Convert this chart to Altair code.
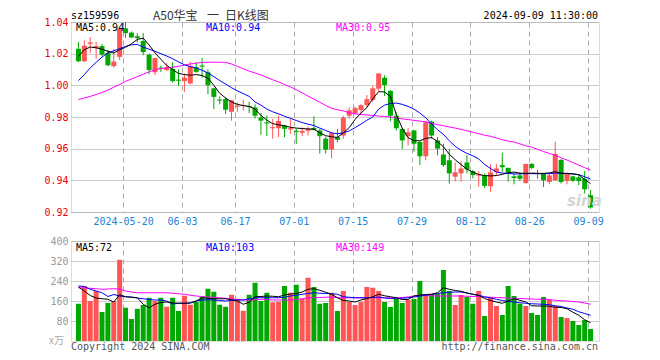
import altair as alt
import pandas as pd

# ---------------- data ----------------
OPEN = [1.0231,1.0152,1.0262,1.0235,1.0248,1.0204,1.0121,1.0180,1.0360,1.0333,
        1.0310,1.0280,1.0194,1.0083,1.0112,1.0096,1.0104,1.0036,1.0027,1.0012,
        1.0115,1.0125,1.0083,0.9981,0.9910,0.9913,0.9833,0.9865,0.9869,0.9869,
        0.9860,0.9796,0.9766,0.9729,0.9729,0.9746,0.9721,0.9713,0.9700,0.9713,
        0.9731,0.9715,0.9663,0.9594,0.9673,0.9683,0.9808,0.9823,0.9844,0.9875,
        0.9908,0.9979,1.0048,0.9965,0.9808,0.9725,0.9679,0.9715,0.9642,0.9552,
        0.9771,0.9652,0.9563,0.9527,0.9423,0.9444,0.9513,0.9458,0.9430,0.9433,
        0.9363,0.9454,0.9496,0.9479,0.9425,0.9431,0.9383,0.9504,0.9444,0.9442,
        0.9390,0.9400,0.9529,0.9396,0.9425,0.9419,0.9410,0.9306]
CLOSE = [1.0152,1.0250,1.0271,1.0248,1.0194,1.0127,1.0150,1.0360,1.0330,1.0302,
         1.0298,1.0210,1.0097,1.0172,1.0105,1.0115,1.0027,1.0029,1.0048,1.0121,
         1.0085,1.0118,1.0000,0.9927,0.9903,0.9846,0.9906,0.9872,0.9876,0.9862,
         0.9808,0.9777,0.9759,0.9736,0.9775,0.9725,0.9729,0.9706,0.9713,0.9725,
         0.9719,0.9679,0.9594,0.9698,0.9656,0.9796,0.9842,0.9856,0.9875,0.9913,
         0.9981,1.0075,1.0002,0.9808,0.9729,0.9652,0.9704,0.9631,0.9552,0.9767,
         0.9683,0.9600,0.9496,0.9444,0.9450,0.9475,0.9469,0.9433,0.9437,0.9365,
         0.9450,0.9475,0.9483,0.9450,0.9415,0.9410,0.9504,0.9479,0.9440,0.9400,
         0.9431,0.9567,0.9390,0.9446,0.9398,0.9396,0.9344,0.9229]
HIGH = [1.0275,1.0283,1.0304,1.0275,1.0262,1.0225,1.0229,1.0370,1.0400,1.0340,
        1.0330,1.0330,1.0200,1.0175,1.0125,1.0142,1.0146,1.0100,1.0075,1.0148,
        1.0146,1.0173,1.0100,0.9985,0.9930,0.9923,0.9908,0.9892,0.9908,0.9896,
        0.9880,0.9825,0.9810,0.9788,0.9810,0.9750,0.9788,0.9725,0.9735,0.9740,
        0.9804,0.9725,0.9675,0.9704,0.9725,0.9808,0.9860,0.9867,0.9880,0.9938,
        0.9996,1.0075,1.0063,0.9969,0.9829,0.9730,0.9731,0.9720,0.9650,0.9777,
        0.9777,0.9673,0.9631,0.9600,0.9513,0.9521,0.9558,0.9465,0.9458,0.9444,
        0.9502,0.9502,0.9575,0.9479,0.9444,0.9452,0.9504,0.9508,0.9465,0.9445,
        0.9442,0.9644,0.9535,0.9452,0.9429,0.9440,0.9460,0.9338]
LOW = [1.0146,1.0146,1.0204,1.0167,1.0183,1.0121,1.0112,1.0160,1.0300,1.0300,
       1.0270,1.0190,1.0070,1.0065,1.0085,1.0090,1.0017,0.9996,0.9958,1.0006,
       1.0079,1.0048,0.9944,0.9850,0.9880,0.9819,0.9777,0.9833,0.9840,0.9825,
       0.9790,0.9688,0.9680,0.9663,0.9673,0.9673,0.9694,0.9630,0.9679,0.9683,
       0.9715,0.9569,0.9569,0.9538,0.9640,0.9663,0.9790,0.9815,0.9825,0.9860,
       0.9896,0.9965,0.9933,0.9773,0.9715,0.9598,0.9619,0.9581,0.9496,0.9527,
       0.9663,0.9558,0.9485,0.9379,0.9392,0.9392,0.9444,0.9413,0.9360,0.9350,
       0.9327,0.9433,0.9454,0.9392,0.9375,0.9396,0.9379,0.9470,0.9410,0.9358,
       0.9375,0.9396,0.9379,0.9375,0.9390,0.9369,0.9317,0.9221]
VOLUME = [149,220,160,200,116,152,159,325,133,88,
          129,144,173,160,173,137,173,120,181,145,
          156,176,209,197,145,137,185,169,121,185,
          233,160,193,155,157,220,193,225,169,253,
          216,149,152,193,120,200,156,144,156,216,
          213,200,156,136,168,152,164,168,240,180,
          188,188,284,200,144,184,176,149,200,100,
          176,140,104,220,180,149,140,112,104,176,
          164,140,96,92,80,64,84,48]
MA5 = [1.0183,1.0225,1.0242,1.0237,1.0228,1.0215,1.0204,1.0225,1.0240,1.0262,
       1.0290,1.0298,1.0255,1.0205,1.0165,1.0125,1.0100,1.0075,1.0068,1.0064,
       1.0068,1.0062,1.0045,1.0000,0.9950,0.9920,0.9895,0.9880,0.9872,0.9867,
       0.9850,0.9810,0.9780,0.9758,0.9750,0.9745,0.9735,0.9730,0.9727,0.9725,
       0.9723,0.9700,0.9682,0.9675,0.9671,0.9700,0.9733,0.9785,0.9825,0.9860,
       0.9915,0.9960,0.9958,0.9930,0.9815,0.9730,0.9670,0.9650,0.9650,0.9665,
       0.9670,0.9645,0.9612,0.9565,0.9530,0.9500,0.9470,0.9452,0.9437,0.9430,
       0.9428,0.9430,0.9438,0.9448,0.9452,0.9445,0.9444,0.9446,0.9444,0.9444,
       0.9447,0.9455,0.9445,0.9443,0.9441,0.9435,0.9405,0.9380]
MA10 = [1.0030,1.0068,1.0110,1.0145,1.0178,1.0205,1.0218,1.0232,1.0246,1.0256,
        1.0258,1.0242,1.0228,1.0215,1.0200,1.0185,1.0168,1.0148,1.0130,1.0118,
        1.0110,1.0095,1.0078,1.0055,1.0030,1.0008,0.9985,0.9965,0.9948,0.9930,
        0.9895,0.9875,0.9850,0.9833,0.9820,0.9805,0.9792,0.9778,0.9765,0.9755,
        0.9746,0.9730,0.9715,0.9700,0.9694,0.9700,0.9712,0.9733,0.9755,0.9780,
        0.9800,0.9850,0.9875,0.9885,0.9888,0.9880,0.9867,0.9850,0.9825,0.9795,
        0.9755,0.9720,0.9690,0.9650,0.9615,0.9590,0.9570,0.9555,0.9535,0.9500,
        0.9475,0.9452,0.9446,0.9444,0.9440,0.9441,0.9442,0.9442,0.9442,0.9442,
        0.9442,0.9446,0.9444,0.9443,0.9440,0.9436,0.9423,0.9408]
MA30 = [0.9910,0.9920,0.9930,0.9942,0.9955,0.9970,0.9988,1.0005,1.0025,1.0040,
        1.0055,1.0070,1.0085,1.0099,1.0105,1.0110,1.0115,1.0120,1.0128,1.0135,
        1.0140,1.0145,1.0146,1.0146,1.0146,1.0145,1.0135,1.0120,1.0105,1.0090,
        1.0078,1.0066,1.0050,1.0035,1.0022,1.0005,0.9990,0.9973,0.9952,0.9932,
        0.9913,0.9893,0.9873,0.9855,0.9846,0.9838,0.9828,0.9820,0.9816,0.9813,
        0.9810,0.9806,0.9804,0.9800,0.9795,0.9788,0.9784,0.9779,0.9774,0.9770,
        0.9760,0.9752,0.9745,0.9737,0.9730,0.9722,0.9713,0.9704,0.9695,0.9685,
        0.9678,0.9668,0.9656,0.9648,0.9642,0.9630,0.9618,0.9610,0.9596,0.9582,
        0.9570,0.9558,0.9542,0.9528,0.9512,0.9496,0.9480,0.9465]
VMA5 = [216,200,182,172,169,167,156,185,177,175,
        173,147,133,147,154,156,152,151,151,152,
        160,173,171,169,169,169,165,160,147,155,
        177,178,180,179,177,184,188,190,196,207,
        209,203,195,187,173,162,160,156,164,170,
        177,187,181,177,173,166,166,180,184,186,
        187,193,213,207,202,199,192,187,182,170,
        162,156,151,160,169,163,156,141,140,140,
        139,135,134,129,115,103,85,73]
VMA10 = [220,218,207,200,193,178,186,180,177,176,
         172,169,166,164,164,160,148,151,151,152,
         160,164,165,164,162,160,162,164,164,169,
         173,173,173,173,173,175,180,183,187,190,
         193,191,190,189,187,177,175,173,173,173,
         174,176,172,170,169,171,173,176,180,183,
         187,190,193,195,196,196,192,187,183,177,
         172,167,162,159,156,153,151,149,148,147,
         145,141,138,132,127,117,110,103]
VMA30 = [213,212,211,209,207,208,209,208,200,196,
         193,193,193,193,193,193,191,189,187,183,
         180,178,176,175,173,171,168,166,164,164,
         165,167,166,164,164,164,164,166,169,173,
         173,174,175,176,173,173,173,173,173,173,
         173,173,173,173,173,174,176,180,183,182,
         181,180,180,180,180,180,179,178,177,176,
         175,174,173,172,171,170,169,168,167,167,
         166,163,161,160,158,156,152,147]

TICK_IDX = [8, 18, 27, 37, 47, 57, 67, 77, 87]
TICK_LABELS = ["2024-05-20", "06-03", "06-17", "07-01", "07-15",
               "07-29", "08-12", "08-26", "09-09"]
PRICE_TICKS = [0.92, 0.94, 0.96, 0.98, 1.00, 1.02, 1.04]
VOL_TICKS = [80, 160, 240, 320, 400]

# ---------------- styling ----------------
RED = "#ff5555"
GREEN = "#00a800"
MONO = "DejaVu Sans Mono"
CJK = "Noto Sans CJK SC"
W, TOP_H, VOL_H = 528, 190, 100

n = len(OPEN)
df = pd.DataFrame({"k": list(range(n)), "o": OPEN, "c": CLOSE, "h": HIGH, "l": LOW,
                   "v": VOLUME, "ma5": MA5, "ma10": MA10, "ma30": MA30,
                   "vma5": VMA5, "vma10": VMA10, "vma30": VMA30})

X0 = -2.5 / 6
xs = alt.Scale(domain=[X0, X0 + n], nice=False, zero=False)
tick_vals = [i + X0 for i in TICK_IDX]
label_expr = "".join(f"abs(datum.value - ({v:.6f})) < 0.01 ? '{t}' : "
                     for v, t in zip(tick_vals, TICK_LABELS)) + "''"

x_axis_top = alt.Axis(values=tick_vals, labelExpr=label_expr, grid=True,
                      gridDash=[5, 4], gridColor="#aaaaaa", ticks=False, tickSize=0,
                      domain=False, labelColor="#1a84d6", labelFont=MONO,
                      labelFontSize=10, labelPadding=4, labelFlush=8,
                      labelOverlap=False, labelBound=False, title=None)
x_axis_vol = alt.Axis(values=tick_vals, grid=True, gridDash=[5, 4],
                      gridColor="#aaaaaa", ticks=False, tickSize=0, domain=False,
                      labels=False, title=None)
ys = alt.Scale(domain=[0.92, 1.04], nice=False, zero=False)
y_axis = alt.Axis(values=PRICE_TICKS, format=".2f", grid=True, gridDash=[1, 1],
                  gridColor="#999999", ticks=False, tickSize=0, domain=False,
                  labelColor="#ee0000", labelFont=MONO, labelFontSize=10,
                  labelPadding=3, minExtent=62, maxExtent=62, title=None)
vs = alt.Scale(domain=[0, 400], nice=False, zero=True)
v_axis = alt.Axis(values=VOL_TICKS, grid=True, gridDash=[1, 1],
                  gridColor="#999999", ticks=False, tickSize=0, domain=False,
                  labelColor="#999999", labelFont=MONO, labelFontSize=10,
                  labelPadding=3, minExtent=62, maxExtent=62, title=None)

color_cond = alt.condition("datum.c >= datum.o", alt.value(RED), alt.value(GREEN))
X = alt.X("k:Q", scale=xs, axis=x_axis_top)
XV = alt.X("k:Q", scale=xs, axis=x_axis_vol)

base = alt.Chart(df)


def label(text, x, y, color, size=10, align="left", font=MONO, **kw):
    return alt.Chart(pd.DataFrame({"t": [text]})).mark_text(
        align=align, baseline="alphabetic", font=font, fontSize=size,
        color=color, **kw
    ).encode(x=alt.value(x), y=alt.value(y), text="t:N")


wick = base.mark_rule(strokeWidth=1).encode(
    x=X, y=alt.Y("l:Q", scale=ys, axis=y_axis), y2="h:Q", color=color_cond)
body = base.mark_bar(size=5).encode(
    x=X, y=alt.Y("o:Q", scale=ys, axis=y_axis), y2="c:Q", color=color_cond)


def ma_line(col, color, scale, axis, xenc):
    return base.mark_line(strokeWidth=1, color=color).encode(
        x=xenc, y=alt.Y(f"{col}:Q", scale=scale, axis=axis))


# invisible spacer fixing the top of the layout bounds
spacer = alt.Chart(pd.DataFrame({"t": [0]})).mark_rule(opacity=0, strokeWidth=0).encode(
    x=alt.value(0), x2=alt.value(10), y=alt.value(-13))

top = alt.layer(
    wick, body,
    ma_line("ma30", "#ff00ff", ys, y_axis, X),
    ma_line("ma10", "#0000ff", ys, y_axis, X),
    ma_line("ma5", "#000000", ys, y_axis, X),
    spacer,
    label("sz159596", 0, -3, "#000000"),
    label("A50华宝", 82, -2.5, "#333333", size=12, font=CJK),
    label("一", 136, -2.5, "#333333", size=12, font=CJK),
    label("日K线图", 154, -2.5, "#333333", size=12, font=CJK),
    label("2024-09-09 11:30:00", 527, -3, "#000000", align="right"),
    label("MA5:0.94", 5, 9, "#000000"),
    label("MA10:0.94", 135, 9, "#0000ff"),
    label("MA30:0.95", 265, 9, "#ff00ff"),
    label("sina", 496, 184, "#d4d4d4", size=15, font="DejaVu Sans",
          fontStyle="italic", fontWeight="bold"),
).properties(width=W, height=TOP_H)

vol_bars = base.mark_bar(size=5).encode(
    x=XV, y=alt.Y("v:Q", scale=vs, axis=v_axis), y2=alt.datum(0), color=color_cond)

vol = alt.layer(
    vol_bars,
    ma_line("vma30", "#ff00ff", vs, v_axis, XV),
    ma_line("vma10", "#0000ff", vs, v_axis, XV),
    ma_line("vma5", "#000000", vs, v_axis, XV),
    label("MA5:72", 5, 10, "#000000"),
    label("MA10:103", 135, 10, "#0000ff"),
    label("MA30:149", 265, 10, "#ff00ff"),
    label("x万", -7, 103, "#aaaaaa", align="right", font=CJK),
    label("Copyright 2024 SINA.COM", 0, 109, "#555555"),
    label("http://finance.sina.com.cn", 527, 109, "#555555", align="right"),
).properties(width=W, height=VOL_H)

chart = alt.vconcat(top, vol, spacing=29, bounds="flush").properties(
    padding={"left": 0, "top": 0, "right": 4, "bottom": 2}
).configure_view(stroke="#999999", strokeWidth=1).configure(background="white")

chart.save("out.html", embed_options={"renderer": "svg", "actions": False})
